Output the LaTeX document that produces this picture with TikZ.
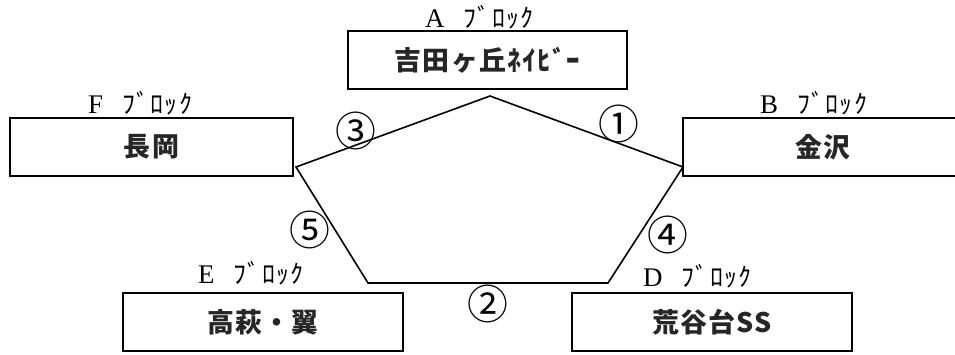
\documentclass[tikz,border=0pt]{standalone}
\usepackage{fontspec}
\setmainfont{Liberation Serif}
\newfontfamily\jpbox[LetterSpace=5]{Noto Sans CJK JP}
\newfontfamily\jpkana[LetterSpace=5]{Noto Sans CJK JP}
\newfontfamily\circf{Noto Sans CJK JP}
\tikzset{
  blockbox/.style={draw, line width=1.7bp, minimum height=58bp, inner sep=0pt,
    font=\jpbox\bfseries\fontsize{27}{27}\selectfont, text=black!85},
  blocklabel/.style={anchor=base west, inner sep=0pt, font=\fontsize{27}{27}\selectfont},
  pent/.style={line width=1.6bp, line join=miter},
  numlabel/.style={inner sep=0pt, font=\circf\fontsize{41}{41}\selectfont}
}
\newcommand{\blk}[1]{#1\hspace{19bp}{\jpkana\fontsize{26}{26}\selectfont ﾌﾞﾛｯｸ}}
\begin{document}
\begin{tikzpicture}[x=1bp,y=-1bp]
\useasboundingbox (0,0) rectangle (955,354);
\clip (0,0) rectangle (955,354);
% boxes
\node[blockbox, minimum width=279bp] (A) at (487.5,60) {吉田ヶ丘ﾈｲﾋﾞｰ};
\node[blockbox, minimum width=283bp] (F) at (151.5,147) {長岡};
\node[blockbox, minimum width=280bp] (B) at (823,147) {金沢};
\node[blockbox, minimum width=280bp] (E) at (263,322) {高萩・翼};
\node[blockbox, minimum width=280bp] (D) at (712,322) {荒谷台SS};
% labels
\node[blocklabel] (lA) at (425,27) {\blk{A}};
\node[blocklabel] (lF) at (88,113) {\blk{F}};
\node[blocklabel] (lB) at (760,113) {\blk{B}};
\node[blocklabel] (lE) at (198,283) {\blk{E}};
\node[blocklabel] (lD) at (643,286) {\blk{D}};
% pentagon
\coordinate (pt) at (490,96);
\coordinate (pr) at (683,167);
\coordinate (pbr) at (608,283);
\coordinate (pbl) at (368,283);
\coordinate (pl) at (296,167);
\draw[pent] (pt) -- (pr) -- (pbr) -- (pbl) -- (pl) -- cycle;
% match numbers
\node[numlabel] (n1) at (619,124) {①};
\node[numlabel] (n3) at (356,131) {③};
\node[numlabel] (n5) at (310,230) {⑤};
\node[numlabel] (n4) at (668,235) {④};
\node[numlabel] (n2) at (488,304) {②};
\end{tikzpicture}
\end{document}
